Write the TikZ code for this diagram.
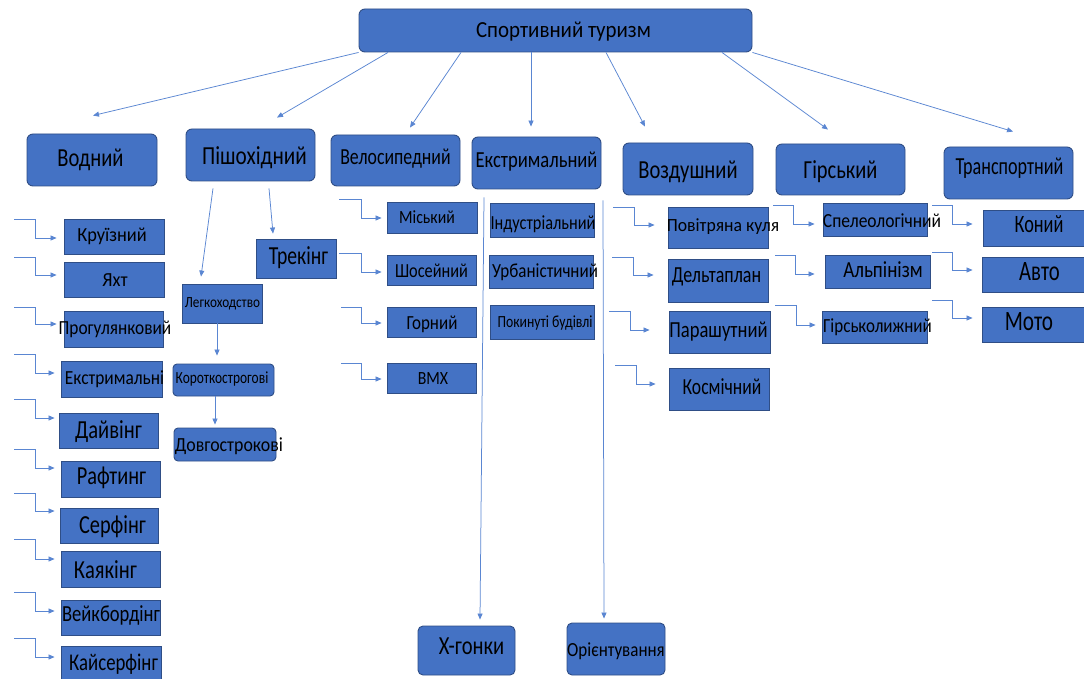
\documentclass[tikz,border=0pt]{standalone}
\usepackage{fontspec}
\usepackage{graphicx}
\setmainfont{Carlito}[FakeStretch=0.85]
\usetikzlibrary{arrows.meta,calc}
\definecolor{boxc}{HTML}{4472C4}
\definecolor{bordc}{HTML}{2F4E86}
\definecolor{linec}{HTML}{5A86D2}
\newcommand\ov[4]{\makebox[0pt]{\rule{0pt}{0.644em}\smash{\hspace*{#2pt}\hspace*{#2pt}\raisebox{-#3pt}{\scalebox{#1}[1]{#4}}}}}
\newcommand\elbow[7]{\coordinate (#1) at (#2,#3); \draw[conn,shorten >=#7pt] (#1) -- ++(#4,0) |- (#5.west |- 0,#6);}
\tikzset{
  rbox/.style={draw=bordc, fill=boxc, rounded corners=6pt, line width=0.9pt, inner sep=0pt, text=black},
  sbox/.style={draw=bordc, fill=boxc, line width=0.9pt, inner sep=0pt, text=black},
  conn/.style={draw=linec, line width=0.75pt, -{Triangle[length=6pt,width=5pt]}},
  fs/.style={font=\fontsize{#1}{#1}\selectfont}
}
\begin{document}
\begin{tikzpicture}[x=1pt,y=-1pt]
\clip (0,0) rectangle (1084,679);
\fill[white] (0,0) rectangle (1084,679);
% top
\node[rbox, minimum width=393, minimum height=43, fs=23] (top) at (555.5,30.5) {\ov{1.07}{8}{0}{Спортивний туризм}};
% level 1
\node[rbox, minimum width=130, minimum height=52, fs=26] (vod) at (92,160) {\ov{0.93}{-1.5}{-1.5}{Водний}};
\node[rbox, minimum width=129, minimum height=52, fs=26] (pish) at (250.5,155) {\ov{0.96}{4}{1.5}{Пішохідний}};
\node[rbox, minimum width=129, minimum height=51, fs=23] (velo) at (395.5,160.5) {\ov{0.91}{0}{-3}{Велосипедний}};
\node[rbox, minimum width=129, minimum height=52, fs=23] (ext) at (536.5,163) {\ov{0.95}{0}{-2.5}{Екстримальний}};
\node[rbox, minimum width=130, minimum height=52, fs=26] (vozd) at (688,169) {\ov{0.93}{0}{1}{Воздушний}};
\node[rbox, minimum width=129, minimum height=51, fs=26] (gir) at (840.5,169.5) {\ov{0.925}{0}{0.5}{Гірський}};
\node[rbox, minimum width=129, minimum height=52, fs=24.5] (trans) at (1008.5,173) {\ov{0.87}{1}{-6}{Транспортний}};
% top arrows
\draw[conn] (top.south west) -- ($(vod.north -| 93,0)+(0,-18)$);
\draw[conn] (top.south -| 388,0) -- ($(pish.north -| 277,0)+(0,-11)$);
\draw[conn] (top.south -| 461,0) -- ($(velo.north -| 410,0)+(0,-7)$);
\draw[conn] (top.south -| 531,0) -- ($(ext.north -| 531,0)+(0,-10)$);
\draw[conn] (top.south -| 606,0) -- ($(vozd.north -| 645,0)+(0,-16)$);
\draw[conn] (top.south -| 722,0) -- ($(gir.north -| 828,0)+(0,-14)$);
\draw[conn] (top.south east) -- ($(trans.north -| 1013,0)+(0,-15)$);
% Vodnyi children
\node[sbox, minimum width=100, minimum height=35, fs=20] (k1) at (114,236.5) {\ov{1.08}{-2}{-1.5}{Круїзний}};
\node[sbox, minimum width=100, minimum height=35, fs=20] (k2) at (114,279.5) {\ov{1.08}{1}{1}{Яхт}};
\node[sbox, minimum width=99, minimum height=36, fs=20] (k3) at (113.5,329) {\ov{1.02}{1.5}{-0.5}{Прогулянковий}};
\node[sbox, minimum width=101, minimum height=36, fs=20] (k4) at (111.5,379) {\ov{1.02}{3}{-0.5}{Екстримальні}};
\node[sbox, minimum width=99, minimum height=35, fs=26] (k5) at (108.5,430.5) {\ov{0.93}{0}{-0.5}{Дайвінг}};
\node[sbox, minimum width=99, minimum height=36, fs=26] (k6) at (110.5,479) {\ov{0.92}{1}{-2.5}{Рафтинг}};
\node[sbox, minimum width=98, minimum height=35, fs=26] (k7) at (109,525.5) {\ov{0.92}{3.5}{-0.5}{Серфінг}};
\node[sbox, minimum width=99, minimum height=36, fs=26] (k8) at (110.5,569) {\ov{0.93}{-5}{1}{Каякінг}};
\node[sbox, minimum width=99, minimum height=35, fs=23] (k9) at (110.5,617.5) {\ov{0.95}{0.5}{-3}{Вейкбордінг}};
\node[sbox, minimum width=100, minimum height=38, fs=24] (k10) at (111,665) {\ov{0.92}{2.5}{-2.5}{Кайсерфінг}};
\elbow{e1}{14}{219}{21}{k1}{238}{7}
\elbow{e2}{14}{257}{21}{k2}{275}{7}
\elbow{e3}{14}{307}{21}{k3}{324}{7}
\elbow{e4}{14}{354}{21}{k4}{373}{6}
\elbow{e5}{14}{399}{21}{k5}{418}{4}
\elbow{e6}{14}{449}{21}{k6}{468}{6}
\elbow{e7}{14}{493}{21}{k7}{511}{5}
\elbow{e8}{14}{539}{21}{k8}{559}{6}
\elbow{e9}{14}{592}{21}{k9}{611}{6}
\elbow{e10}{14}{638}{21}{k10}{657}{6}
% Pishokhidnyi children
\node[sbox, minimum width=80, minimum height=39, fs=26] (trek) at (296,258.5) {\ov{0.89}{2.5}{-2}{Трекінг}};
\node[sbox, minimum width=80, minimum height=39, fs=15.5] (legk) at (222,303.5) {\ov{1}{0.5}{-1}{Легкоходство}};
\node[rbox, rounded corners=4pt, minimum width=101, minimum height=32, fs=17] (kor) at (223.5,380) {\ov{0.93}{-1.5}{-1.5}{Короткострогові}};
\node[rbox, rounded corners=4pt, minimum width=102, minimum height=33, fs=20] (dov) at (225,444.5) {\ov{1.05}{4}{0.5}{Довгострокові}};
\draw[conn] ($(pish.south -| 213,0)+(0,7)$) -- ($(legk.north -| 201,0)+(0,-7)$);
\draw[conn] ($(pish.south -| 269,0)+(0,7)$) -- ($(trek.north -| 273,0)+(0,-5)$);
\draw[conn] (legk.south -| 217,0) -- ($(kor.north -| 217,0)+(0,-8)$);
\draw[conn] (kor.south -| 215,0) -- ($(dov.north -| 215,0)+(0,-3)$);
% Velosypednyi children
\node[sbox, minimum width=90, minimum height=31, fs=18.6] (m1) at (432,217.5) {\ov{1}{-5}{0}{Міський}};
\node[sbox, minimum width=89, minimum height=30, fs=20] (m2) at (431.5,270) {\ov{0.96}{0}{1.5}{Шосейний}};
\node[sbox, minimum width=89, minimum height=30, fs=20] (m3) at (431.5,322) {\ov{1}{0.5}{1.5}{Горний}};
\node[sbox, minimum width=89, minimum height=30, fs=18.6] (m4) at (431.5,378) {\ov{1}{1.5}{1}{BMX}};
\elbow{v1}{339}{199}{22}{m1}{218}{5}
\elbow{v2}{339}{253}{22}{m2}{272}{5}
\elbow{v3}{341}{307}{20}{m3}{323}{5}
\elbow{v4}{341}{363}{20}{m4}{379}{5}
% Ekstremalnyi children
\node[sbox, minimum width=104, minimum height=34, fs=20] (i1) at (542,220) {\ov{0.96}{1}{3.5}{Індустріальний}};
\node[sbox, minimum width=104, minimum height=33, fs=20] (i2) at (541,271.5) {\ov{1}{4}{0}{Урбаністичний}};
\node[sbox, minimum width=104, minimum height=34, fs=17] (i3) at (542,322) {\ov{0.95}{3}{0.5}{Покинуті будівлі}};
\node[rbox, rounded corners=5pt, minimum width=97, minimum height=49, fs=26] (xg) at (466.5,650.5) {\ov{0.93}{5}{-4}{X-гонки}};
\node[rbox, rounded corners=5pt, minimum width=98, minimum height=52, fs=20] (ori) at (616,649) {\ov{1}{0}{1}{Орієнтування}};
\draw[conn] ($(ext.south -| 484,0)+(0,8)$) -- ($(xg.north -| 480,0)+(0,-6)$);
\draw[conn] ($(ext.south -| 603,0)+(0,11)$) -- ($(ori.north -| 604,0)+(0,-4)$);
% Vozdushnyi children
\node[sbox, minimum width=100, minimum height=41, fs=18.6] (a1) at (718,227.5) {\ov{1.12}{5}{-1.5}{Повітряна куля}};
\node[sbox, minimum width=100, minimum height=43, fs=23] (a2) at (718,280.5) {\ov{0.92}{-1.5}{-5}{Дельтаплан}};
\node[sbox, minimum width=101, minimum height=42, fs=23] (a3) at (719.5,332) {\ov{0.95}{-1}{-1.5}{Парашутний}};
\node[sbox, minimum width=100, minimum height=42, fs=23] (a4) at (719,389) {\ov{0.9}{3}{-1.5}{Космічний}};
\elbow{w1}{613}{207}{21}{a1}{225}{13}
\elbow{w2}{612}{257}{21}{a2}{275}{14}
\elbow{w3}{609}{311}{21}{a3}{330}{19}
\elbow{w4}{615}{365}{21}{a4}{384}{13}
% Hirskyi children
\node[sbox, minimum width=104, minimum height=33, fs=20] (g1) at (875,219.5) {\ov{1.03}{7}{2}{Спелеологічний}};
\node[sbox, minimum width=105, minimum height=33, fs=23] (g2) at (877.5,271.5) {\ov{0.975}{5.5}{-1.5}{Альпінізм}};
\node[sbox, minimum width=105, minimum height=32, fs=20] (g3) at (874.5,327) {\ov{1}{3}{-0.5}{Гірськолижний}};
\elbow{h1}{773}{205}{20}{g1}{224}{8}
\elbow{h2}{775}{255}{20}{g2}{274}{10}
\elbow{h3}{775}{305}{21}{g3}{325}{6}
% Transportnyi children
\node[sbox, minimum width=107, minimum height=36, fs=25] (t1) at (1036.5,228) {\ov{0.86}{2.5}{-3.5}{Коний}};
\node[sbox, minimum width=108, minimum height=35, fs=28] (t2) at (1036,274.5) {\ov{0.87}{3.5}{-3}{Авто}};
\node[sbox, minimum width=108, minimum height=35, fs=28] (t3) at (1036,324.5) {\ov{0.89}{-7}{-3}{Мото}};
\elbow{r1}{932}{205}{20}{t1}{224}{10}
\elbow{r2}{932}{252}{20}{t2}{270}{9}
\elbow{r3}{932}{300}{20}{t3}{318}{9}
\end{tikzpicture}
\end{document}
